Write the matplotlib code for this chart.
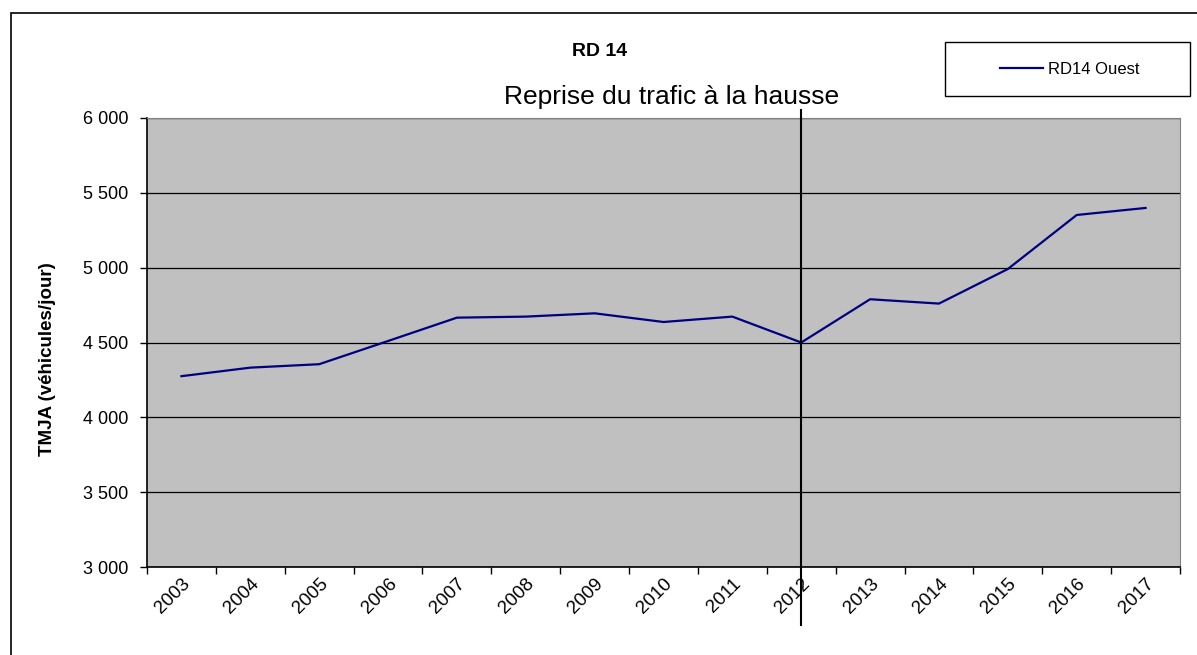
import matplotlib
matplotlib.use('Agg')
import matplotlib.pyplot as plt
from matplotlib.patches import Rectangle
from matplotlib.ticker import FuncFormatter
import matplotlib.transforms as mtransforms

plt.rcParams['font.family'] = ['Liberation Sans', 'DejaVu Sans']

# data
years = ['2003', '2004', '2005', '2006', '2007', '2008', '2009', '2010',
         '2011', '2012', '2013', '2014', '2015', '2016', '2017']
rd14_ouest = [4275, 4332, 4355, 4510, 4666, 4673, 4695, 4637,
              4673, 4500, 4789, 4760, 4991, 5352, 5399]
marker_year = '2012'

W, H = 1197, 655
fig = plt.figure(figsize=(W / 100, H / 100), dpi=100)
ax = fig.add_axes([147 / W, 1 - 567 / H, 1033 / W, 449 / H])

# outer frame like the spreadsheet chart area
fig.patches.append(Rectangle((11 / W, -0.1), 1.2, 1 - 13 / H + 0.1,
                             transform=fig.transFigure, fill=False,
                             edgecolor='black', lw=1.2))
# legend box (bigger than its content, as in the original)
fig.patches.append(Rectangle((945 / W, 1 - 96 / H), 245 / W, 54 / H,
                             transform=fig.transFigure, fill=False,
                             edgecolor='black', lw=1))

x = list(range(len(years)))
ax.set_facecolor('#C0C0C0')
ax.plot(x, rd14_ouest, color='#000080', lw=1.6, label='RD14 Ouest', zorder=3)

ax.set_xlim(-0.5, len(years) - 0.5)
ax.set_ylim(3000, 6000)
ax.set_yticks(range(3000, 6001, 500))
ax.yaxis.set_major_formatter(FuncFormatter(lambda v, p: '{:,}'.format(int(v)).replace(',', ' ')))
ax.grid(axis='y', color='black', lw=0.9)
ax.set_axisbelow(True)

ax.set_xticks(x)
ax.set_xticklabels(years, rotation=45, ha='right', rotation_mode='anchor')
ax.set_xticks([i - 0.5 for i in range(len(years) + 1)], minor=True)
ax.tick_params(axis='x', which='major', length=0, pad=6, labelsize=13.5)
ax.tick_params(axis='x', which='minor', length=5, width=1, direction='out')
ax.tick_params(axis='y', length=5, width=1, labelsize=13, pad=8.5)

for s in ['top', 'right']:
    ax.spines[s].set_color('#808080')
for s in ['left', 'bottom']:
    ax.spines[s].set_color('black')
    ax.spines[s].set_linewidth(1.2)

# vertical marker crossing the plot
trans = mtransforms.blended_transform_factory(ax.transData, ax.transAxes)
xm = years.index(marker_year)
ax.plot([xm, xm], [-0.129, 1.018], transform=trans, color='black',
        lw=1.5, clip_on=False, zorder=4)

ax.set_ylabel('TMJA (véhicules/jour)', fontsize=13.5, fontweight='bold')
ax.yaxis.set_label_coords((56 - 147) / 1033, (567 - 359) / 449)

fig.text(600 / W, 1 - 51 / H, 'RD 14', ha='center', va='center',
         fontsize=14, fontweight='bold')
fig.text(671.5 / W, 1 - 97 / H, 'Reprise du trafic à la hausse',
         ha='center', va='center', fontsize=19)

fig.legend(loc='center left', bbox_to_anchor=(1000 / W, 1 - 69 / H),
           fontsize=12, frameon=False, handlelength=2.6,
           borderpad=0, borderaxespad=0, handletextpad=0.3)

fig.savefig('out.png', dpi=100)
